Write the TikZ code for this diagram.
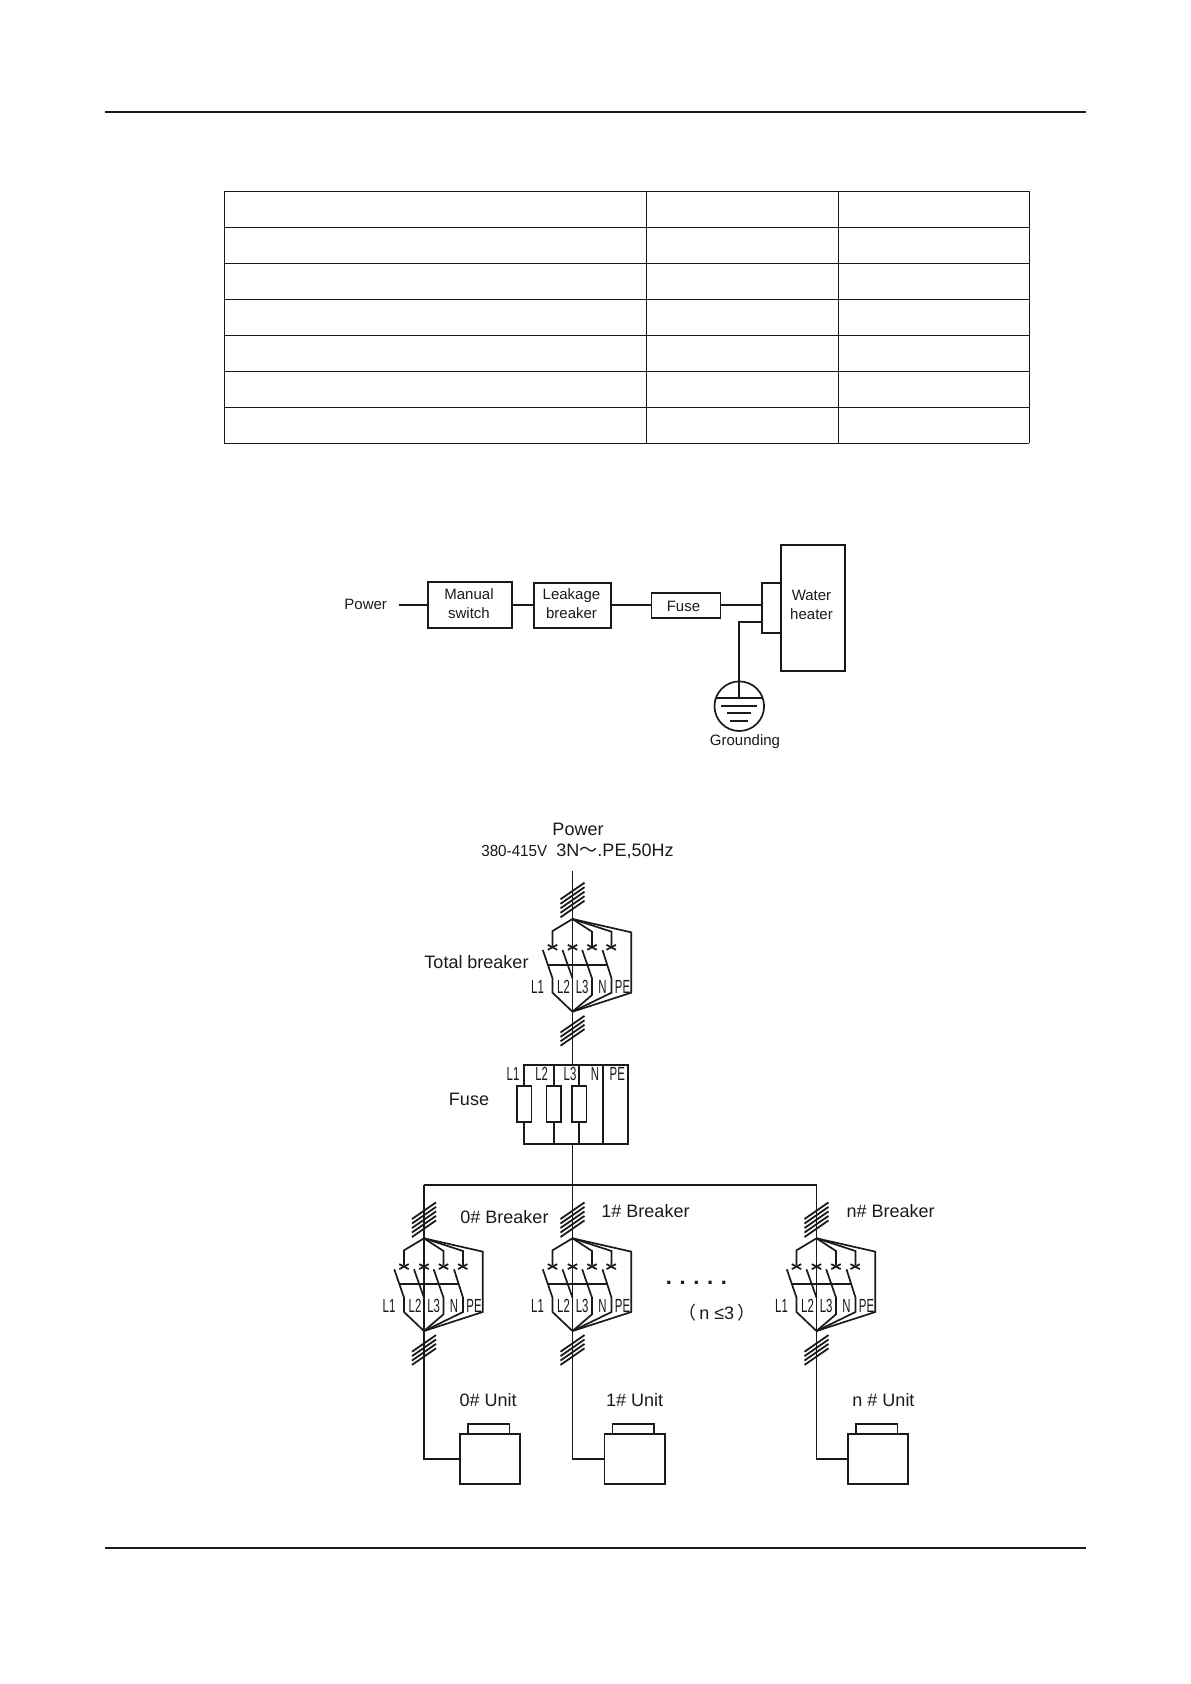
\documentclass[tikz,border=0pt]{standalone}
\usepackage{fontspec}
\setmainfont{Liberation Sans}
\newfontfamily\cjk{Noto Sans CJK SC}
\newfontfamily\narrowfont[FakeStretch=0.6]{Liberation Sans}
\newfontfamily\voltfont[FakeStretch=0.95]{Liberation Sans}
\definecolor{ink}{HTML}{1A1A1A}
\tikzset{
  wire/.style={draw=ink, line width=1.7pt},
  box/.style={wire, inner sep=0pt, outer sep=0pt, align=center, text=ink,
    font=\fontsize{15}{18.7}\selectfont},
  lab/.style={inner sep=0pt, outer sep=0pt, text=ink, font=\fontsize{18}{22}\selectfont},
  smalllab/.style={inner sep=0pt, outer sep=0pt, align=center, text=ink,
    font=\fontsize{15}{18.7}\selectfont},
  poletag/.style={inner sep=0pt, outer sep=0pt, text=ink,
    font=\narrowfont\fontsize{19}{22}\selectfont},
  hashfive/.pic={
    \foreach \i in {-2,...,2}
      \draw[draw=ink, line width=1.8pt] (-12,8.3+4.5*\i) -- (12,-8.3+4.5*\i);
  },
  hashfour/.pic={
    \foreach \i in {-1.5,-0.5,0.5,1.5}
      \draw[draw=ink, line width=1.8pt] (-12,8.3+4.4*\i) -- (12,-8.3+4.4*\i);
  },
  breakerpic/.pic={
    \draw[wire] (0,0) -- (-20,12) -- (-20,27);
    \draw[wire] (0,0) -- (19.5,12.7) -- (19.5,27);
    \draw[wire] (0,0) -- (39,12.7) -- (39,27);
    \draw[wire] (0,0) -- (58.7,13.3) -- (58.7,73.7) -- (0,92.7);
    \foreach \cx in {-20,0,19.5,38.7} {
      \draw[wire] (\cx-4.7,25.8) -- (\cx+4.7,30.8);
      \draw[wire] (\cx-4.7,30.8) -- (\cx+4.7,25.8);
    }
    \draw[wire] (-29.7,31) -- (-20,59.3) -- (-20,73.7) -- (0,92.7);
    \draw[wire] (-10,31) -- (0,59.3);
    \draw[wire] (9.7,31) -- (19.5,59.3) -- (19.5,76) -- (0,92.7);
    \draw[wire] (30,31) -- (39,59.3) -- (39,73.7) -- (0,92.7);
    \draw[wire] (-24.7,46) -- (34.3,46);
    \node[poletag] (-l1) at (-35,67.5) {L1};
    \node[poletag] (-l2) at (-9,67.5) {L2};
    \node[poletag] (-l3) at (9.7,67.5) {L3};
    \node[poletag] (-n) at (30,67.5) {N};
    \node[poletag] (-pe) at (50,67.5) {PE};
  }
}
\begin{document}
\begin{tikzpicture}[x=1pt, y=-1pt]
  \useasboundingbox (0,0) rectangle (1191,1684);
  % page rules
  \coordinate (ruleal) at (104.7,111.5);
  \coordinate (ruleah) at (1086,111.5);
  \coordinate (rulebl) at (104.7,1548);
  \coordinate (rulebr) at (1086,1548);
  \draw[draw=ink, line width=2pt] (ruleal) -- (ruleah);
  \draw[draw=ink, line width=2pt] (rulebl) -- (rulebr);
  % table
  \foreach \ty in {191.3,227.3,263.3,299.3,335.3,371.3,407.3,443.3}
    \draw[draw=ink, line width=1.2pt] (224.4,\ty) -- (1029.3,\ty);
  \foreach \tx in {224.4,1029.3}
    \draw[draw=ink, line width=1.2pt] (\tx,191.3) -- (\tx,443.3);
  \foreach \tx in {646.4,838.1}
    \draw[draw=ink, line width=0.7pt] (\tx,191.3) -- (\tx,443.3);

  % water heater wiring
  \node[smalllab] (power) at (365.7,604) {Power};
  \coordinate (powerend) at (398.6,605);
  \node[box, minimum width=84.2pt, minimum height=46pt] (switch) at (470,605.3) {};
  \node[smalllab] (switchtext) at (469,603.7) {Manual\\switch};
  \node[box, minimum width=76.4pt, minimum height=44.7pt] (leak) at (572.5,605.3) {};
  \node[smalllab] (leaktext) at (571.5,603.7) {Leakage\\breaker};
  \node[box, minimum width=69pt, minimum height=24.7pt] (fuse) at (685.9,605.3) {};
  \node[smalllab] (fusetag) at (683.5,606) {Fuse};
  \node[box, minimum width=63.9pt, minimum height=126.3pt] (heater) at (813.05,607.9) {};
  \node[smalllab] (heatertext) at (811.5,605) {Water\\heater};
  \node[box, minimum width=19pt, minimum height=49.7pt, anchor=east] (inlet) at (781.1,607.9) {};
  \draw[wire] (powerend) -- (switch.west |- powerend);
  \draw[wire] (switch.east |- powerend) -- (leak.west |- powerend);
  \draw[wire] (leak.east |- powerend) -- (fuse.west |- powerend);
  \draw[wire] (fuse.east |- powerend) -- (inlet.west |- powerend);
  \node[draw=ink, line width=1.7pt, circle, minimum size=49.6pt, inner sep=0pt, outer sep=0pt] (ground) at (739.3,706.2) {};
  \coordinate (groundtap) at (739.3,698.3);
  \coordinate (inlettap) at (762.1,622.3);
  \draw[wire] (inlettap) -| (groundtap);
  \draw[wire] (715.7,698.3) -- (762.9,698.3);
  \draw[wire] (721.4,706) -- (757.1,706);
  \draw[wire] (727.1,713.3) -- (751,713.3);
  \draw[wire] (729.6,721) -- (747.9,721);
  \node[smalllab] (groundtext) at (745,741.5) {Grounding};

  % distribution
  \node[lab] (mainpower) at (578,829) {Power};
  \node[inner sep=0pt, text=ink, font=\voltfont\fontsize{16}{20}\selectfont] (volt) at (514.3,851) {380-415V};
  \node[lab] (spec) at (615,851) {3N{\cjk ～}.PE,50Hz};
  \coordinate (feed) at (572.5,870.7);
  \coordinate (fusein) at (572.5,1065);
  \coordinate (fuseout) at (572.5,1143.7);
  \coordinate (junction) at (572.5,1185);
  \draw[wire] (feed) -- (fusein);
  \draw[wire] (fuseout) -- (junction);
  \pic at (572.5,900) {hashfive};
  \pic (tb) at (572.5,919) {breakerpic};
  \pic at (572.5,1030.8) {hashfour};
  \node[lab] (totaltext) at (476.5,961.7) {Total breaker};

  \node[lab] (fusetext) at (469,1099.3) {Fuse};
  \foreach \fname/\fx in {fa/524,fb/553.7,fc/579}
    \node[wire, inner sep=0pt, outer sep=0pt, minimum width=14.7pt, minimum height=36pt] (\fname) at (\fx,1104.3) {};
  \coordinate (fusetr) at (627.8,1065);
  \coordinate (fusebr) at (627.8,1143.7);
  \draw[wire] (fa.north) |- (fusetr) -- (fusebr) -| (fa.south);
  \draw[wire] (fb.north) -- (fb.north |- fusetr);
  \draw[wire] (fb.south) -- (fb.south |- fusebr);
  \draw[wire] (fc.north) -- (fc.north |- fusetr);
  \draw[wire] (fc.south) -- (fc.south |- fusebr);
  \draw[wire] (602.7,1065) -- (602.7,1143.7);
  \node[poletag] (fl1) at (513,1074.3) {L1};
  \node[poletag] (fl2) at (541.7,1074.3) {L2};
  \node[poletag] (fl3) at (570,1074.3) {L3};
  \node[poletag] (fn) at (595,1074.3) {N};
  \node[poletag] (fpe) at (617.3,1074.3) {PE};

  \coordinate (busa) at (424,1185);
  \coordinate (busb) at (816.5,1185);
  \draw[wire] (busa) -- (busb);
  \foreach \uname/\ux/\boxx/\topx in {a/424/490/488.7, b/572.5/634.6/633.3, c/816.5/877.9/876.7} {
    \node[wire, inner sep=0pt, outer sep=0pt, minimum width=60.4pt, minimum height=50.6pt] (unit\uname) at (\boxx,1459) {};
    \node[wire, inner sep=0pt, outer sep=0pt, minimum width=41.5pt, minimum height=9.4pt, anchor=south] (cap\uname) at (\topx,1433.7) {};
    \draw[wire] (\ux,1185) |- (unit\uname.west);
    \pic at (\ux,1219.7) {hashfive};
    \pic (br\uname) at (\ux,1238.3) {breakerpic};
    \pic at (\ux,1350) {hashfour};
  }
  \node[lab] (bta) at (504.5,1216.7) {0\# Breaker};
  \node[lab] (btb) at (645.5,1211) {1\# Breaker};
  \node[lab] (btc) at (890.7,1211) {n\# Breaker};
  \node[lab] (uta) at (488.2,1400) {0\# Unit};
  \node[lab] (utb) at (634.7,1400) {1\# Unit};
  \node[lab] (utc) at (883.5,1400) {n \# Unit};
  \foreach \i in {0,...,4}
    \node[lab, font=\bfseries\fontsize{22}{24}\selectfont] (dot\i) at (668.8+13.75*\i,1282.5) {.};
  \node[lab] (limit) at (716.7,1312.7) {{\cjk （}\hspace{3pt}n ≤3\hspace{3pt}{\cjk ）}};
\end{tikzpicture}
\end{document}
